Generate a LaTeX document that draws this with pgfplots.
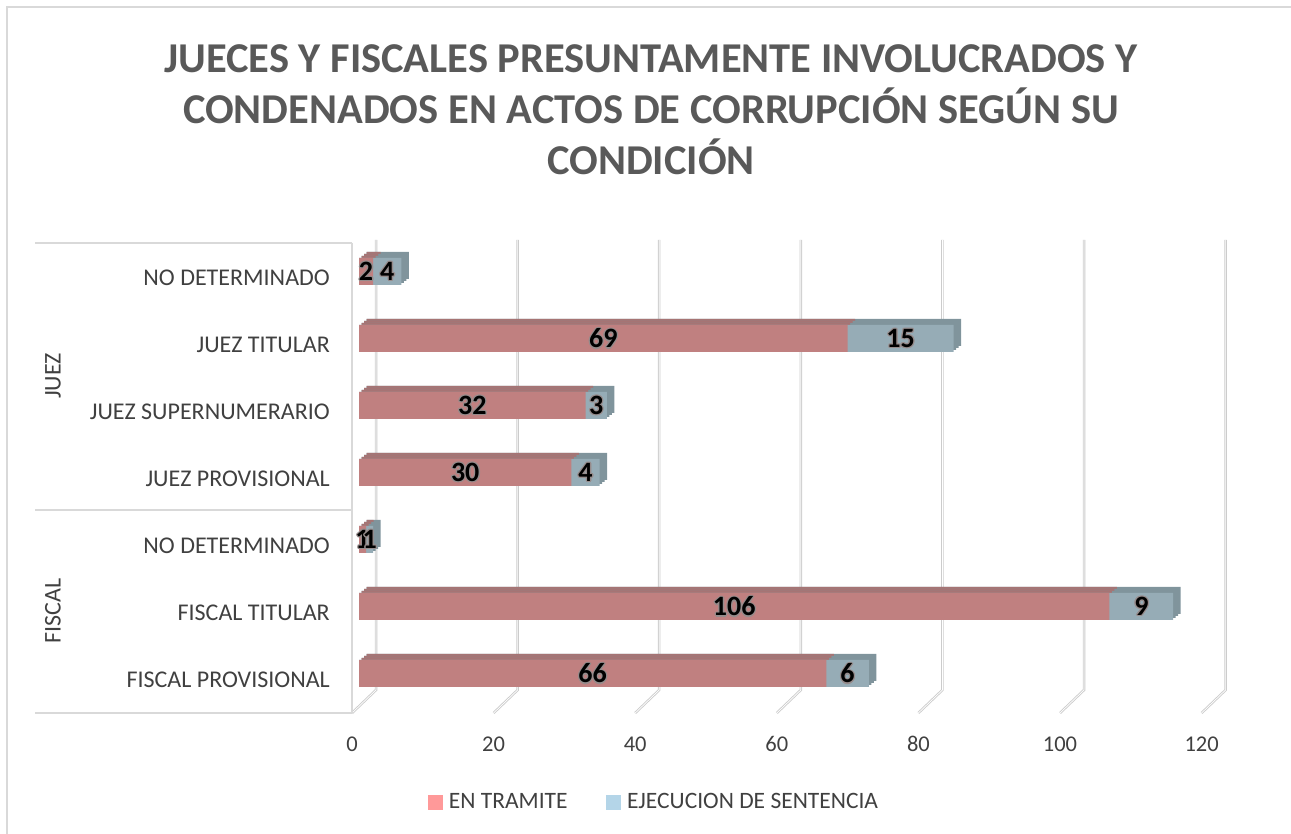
\documentclass[border=0pt]{standalone}
\usepackage{pgfplots}
\pgfplotsset{compat=1.18}
\usepackage{pgfplotstable}
\usepackage{fontspec}
\setmainfont{Carlito}

\definecolor{redf}{RGB}{192,128,128}
\definecolor{redt}{RGB}{166,116,116}
\definecolor{bluef}{RGB}{150,172,182}
\definecolor{bluet}{RGB}{128,148,156}
\definecolor{legred}{RGB}{255,153,153}
\definecolor{legblue}{RGB}{180,213,232}
\definecolor{txt}{RGB}{64,64,64}
\definecolor{ttl}{RGB}{89,89,89}
\definecolor{gridc}{RGB}{217,217,217}
\definecolor{haloc}{RGB}{150,140,140}

% idx 0 = bottom row
\pgfplotstableread{
idx tram ejec
0   66   6
1   106  9
2   1    1
3   30   4
4   32   3
5   69   15
6   2    4
}\datos

\newcommand\hc[3]{\makebox[0pt][l]{\hspace*{#1}\raisebox{#2}{\textcolor{haloc}{#3}}}}
\newcommand\halo[1]{\hc{1.3pt}{0pt}{#1}\hc{-1.3pt}{0pt}{#1}\hc{0pt}{1.3pt}{#1}\hc{0pt}{-1.3pt}{#1}%
  \hc{0.9pt}{0.9pt}{#1}\hc{-0.9pt}{0.9pt}{#1}\hc{0.9pt}{-0.9pt}{#1}\hc{-0.9pt}{-0.9pt}{#1}#1}

\pgfplotsset{
  barra/.style={xbar, bar width=27pt, bar shift=0pt, draw=none, forget plot},
  fondo/.style={barra, xshift=#1*2.5pt, yshift=#1*2pt},
  etiq/.style={only marks, mark=none, forget plot, point meta=explicit,
    nodes near coords={\halo{\pgfmathprintnumber{\pgfplotspointmeta}}},
    every node near coord/.style={anchor=center, inner sep=0pt, text=black,
      font=\fontsize{28}{28}\selectfont\bfseries}},
}

\begin{document}
\begin{tikzpicture}
\useasboundingbox (0,0) rectangle (1291pt,-834pt);
\begin{scope}[x=1pt,y=-1pt]
  \draw[gridc, line width=1.8pt] (7,850) -- (7,7) -- (1300,7);
  \node[align=center, text=ttl, font=\fontsize{42.5}{51}\selectfont\bfseries] at (651,110)
    {JUECES Y FISCALES PRESUNTAMENTE INVOLUCRADOS Y\\CONDENADOS EN ACTOS DE CORRUPCIÓN SEGÚN SU\\CONDICIÓN};
  \foreach \v in {0,20,...,120}{
    \draw[draw=black!20, line width=0.9pt, double=white, double distance=0.7pt]
      ({376+7.08*\v},240) -- ({376+7.08*\v},690) -- ({352+7.08*\v},713);
  }
  \draw[gridc, line width=1.5pt] (352,243) -- (352,713);
  \draw[gridc, line width=1.5pt] (35,243) -- (352,243);
  \draw[gridc, line width=1.5pt] (35,510) -- (352,510);
  \draw[gridc, line width=1.5pt] (35,713) -- (352,713);
  \node[rotate=90, text=txt, font=\fontsize{24}{24}\selectfont] at (53,376) {JUEZ};
  \node[rotate=90, text=txt, font=\fontsize{24}{24}\selectfont] at (53,611) {FISCAL};
\end{scope}

\begin{axis}[
  at={(359pt,-713pt)}, anchor=south west,
  scale only axis, width=849.6pt, height=472pt,
  xmin=0, xmax=120, ymin=-0.59, ymax=6.455,
  clip=false,
  axis line style={draw=none}, major tick length=0pt,
  xtick={0,20,...,120}, ytick={0,...,6},
  yticklabels={FISCAL PROVISIONAL, FISCAL TITULAR, NO DETERMINADO, JUEZ PROVISIONAL,
    JUEZ SUPERNUMERARIO, JUEZ TITULAR, NO DETERMINADO},
  /pgf/number format/assume math mode=true,
  xticklabel style={anchor=center, inner sep=0pt, xshift=-7pt, yshift=-31pt,
    text=txt, font=\fontsize{22.5}{22.5}\selectfont},
  yticklabel style={anchor=east, inner sep=0pt, xshift=-29pt, yshift=-6.5pt,
    text=txt, font=\fontsize{24}{24}\selectfont},
  legend style={at={(0.347,-0.1886)}, anchor=center, draw=none, fill=none,
    legend columns=2, text=txt, font=\fontsize{23.5}{23.5}\selectfont,
    /tikz/every even column/.append style={column sep=36pt}},
]
\addlegendimage{legend image code/.code={\fill[legred] (0pt,-7pt) rectangle (14pt,7pt); \path (19pt,0pt);}}
\addlegendentry{EN TRAMITE}
\addlegendimage{legend image code/.code={\fill[legblue] (0pt,-7pt) rectangle (14pt,7pt); \path (19pt,0pt);}}
\addlegendentry{EJECUCION DE SENTENCIA}
% profundidad (caras superior y lateral)
\addplot[fondo=3, fill=bluet] table[x expr=\thisrow{tram}+\thisrow{ejec}, y=idx]{\datos};
\addplot[fondo=3, fill=redt] table[x=tram, y=idx]{\datos};
\addplot[fondo=2, fill=bluet] table[x expr=\thisrow{tram}+\thisrow{ejec}, y=idx]{\datos};
\addplot[fondo=2, fill=redt] table[x=tram, y=idx]{\datos};
\addplot[fondo=1, fill=bluet] table[x expr=\thisrow{tram}+\thisrow{ejec}, y=idx]{\datos};
\addplot[fondo=1, fill=redt] table[x=tram, y=idx]{\datos};
% caras frontales
\addplot[barra, fill=bluef] table[x expr=\thisrow{tram}+\thisrow{ejec}, y=idx]{\datos};
\addplot[barra, fill=redf] table[x=tram, y=idx]{\datos};
% etiquetas
\addplot[etiq] table[x expr=\thisrow{tram}/2, y=idx, meta=tram]{\datos};
\addplot[etiq] table[x expr=\thisrow{tram}+\thisrow{ejec}/2, y=idx, meta=ejec]{\datos};
\end{axis}
\end{tikzpicture}
\end{document}
